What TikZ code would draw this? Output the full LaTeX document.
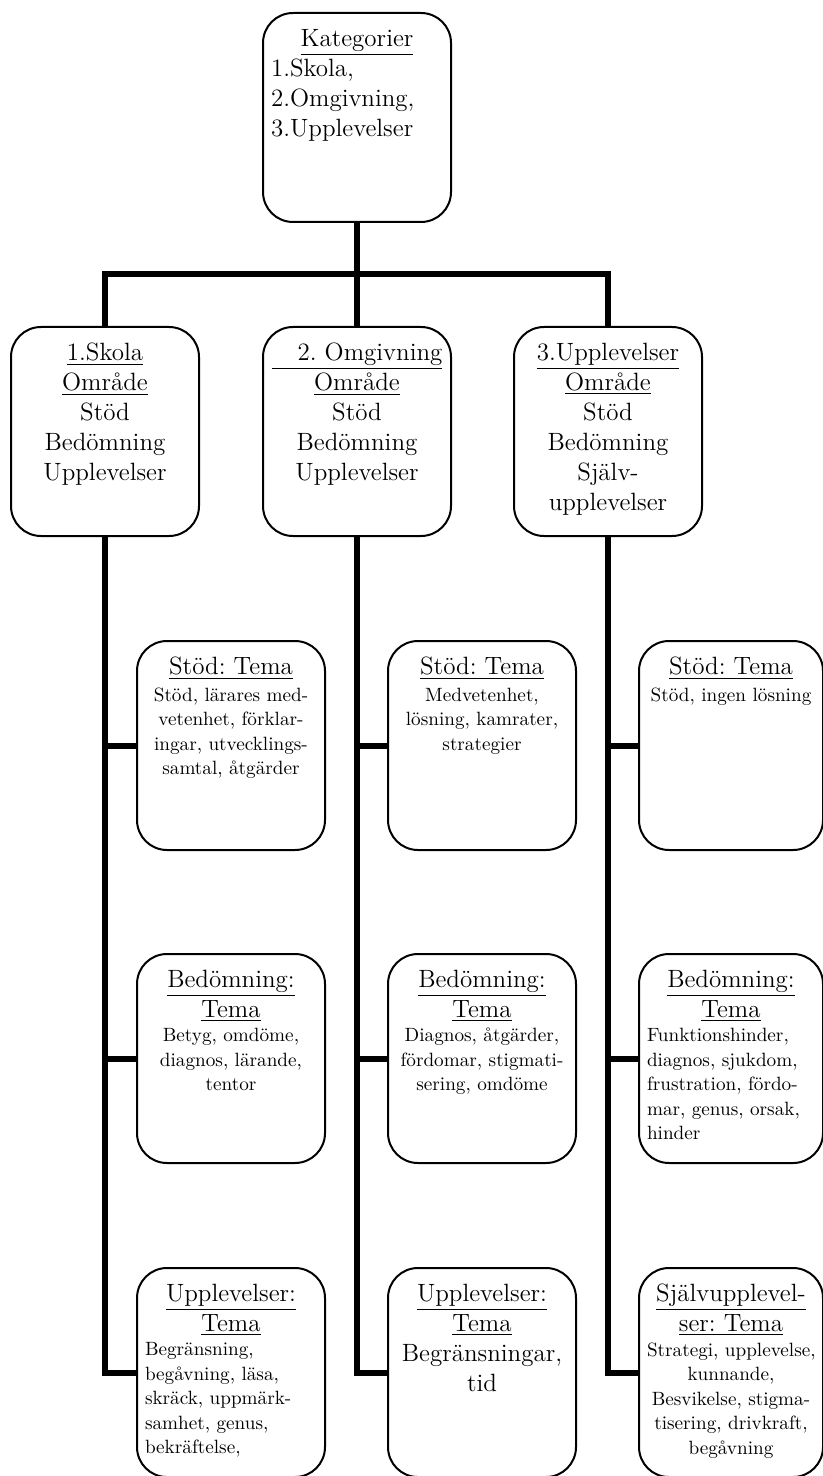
\documentclass[tikz,border=0pt]{standalone}
\usepackage{tikz}
\usetikzlibrary{positioning}

\frenchspacing
\newcommand{\rubrik}{\fontsize{12.5}{15}\selectfont}
\newcommand{\brodtext}{\fontsize{9.6}{12.25}\selectfont}
\newcommand{\ruttext}[2]{\parbox[c][104.5pt][t]{#1}{\vspace*{8pt}#2}}

\begin{document}
\begin{tikzpicture}[x=0.5pt, y=-0.5pt,
    ruta/.style={draw, line width=1pt, rounded corners=15pt, anchor=north west,
      inner xsep=4pt, inner ysep=0pt},
    gren/.style={line width=3pt}]
  \useasboundingbox (0,0) rectangle (823,1476);

  % kategorier
  \node[ruta] (kat) at (262,12) {\ruttext{86pt}{\raggedright\rubrik
      \makebox[\linewidth]{\underline{Kategorier}}\\ 1.Skola,\\ 2.Omgivning,\\ 3.Upplevelser}};

  % omraden
  \node[ruta] (om1) at (10,326) {\ruttext{86pt}{\centering\rubrik
      \underline{1.Skola}\\ \underline{Område}\\ Stöd\\ Bedömning\\ Upplevelser}};
  \node[ruta] (om2) at (262,326) {\ruttext{86pt}{\centering\rubrik
      \underline{\hspace{13pt}2. Omgivning}\\ \underline{Område}\\ Stöd\\ Bedömning\\ Upplevelser}};
  \node[ruta] (om3) at (513,326) {\ruttext{86pt}{\centering\rubrik
      \underline{3.Upplevelser}\\ \underline{Område}\\ Stöd\\ Bedömning\\ Själv-\\ upplevelser}};

  % teman, kolumn 1
  \node[ruta] (t11) at (136,640) {\ruttext{86pt}{\centering
      {\rubrik\underline{Stöd: Tema}\par}\vspace{1pt}
      \brodtext Stöd, lärares med-\\ vetenhet, förklar-\\ ingar, utvecklings-\\ samtal, åtgärder}};
  \node[ruta] (t12) at (136,953) {\ruttext{86pt}{\centering
      {\rubrik\underline{Bedömning:}\\ \underline{Tema}\par}
      \brodtext Betyg, omdöme,\\ diagnos, lärande,\\ tentor}};
  \node[ruta] (t13) at (136,1267) {\ruttext{86pt}{{\centering
      \rubrik\underline{Upplevelser:}\\ \underline{Tema}\par}
      \raggedright\brodtext Begränsning,\\ begåvning, läsa,\\ skräck, uppmärk-\\ samhet, genus,\\ bekräftelse,}};

  % teman, kolumn 2
  \node[ruta] (t21) at (387,640) {\ruttext{86pt}{\centering
      {\rubrik\underline{Stöd: Tema}\par}\vspace{1pt}
      \brodtext Medvetenhet,\\ lösning, kamrater,\\ strategier}};
  \node[ruta] (t22) at (387,953) {\ruttext{86pt}{\centering
      {\rubrik\underline{Bedömning:}\\ \underline{Tema}\par}
      \brodtext Diagnos, åtgärder,\\ fördomar, stigmati-\\ sering, omdöme}};
  \node[ruta] (t23) at (387,1267) {\ruttext{86pt}{\centering\rubrik
      \underline{Upplevelser:}\\ \underline{Tema}\\ Begränsningar,\\ tid}};

  % teman, kolumn 3
  \node[ruta] (t31) at (638,640) {\ruttext{84pt}{\centering
      {\rubrik\underline{Stöd: Tema}\par}\vspace{1pt}
      \brodtext Stöd, ingen lösning}};
  \node[ruta] (t32) at (638,953) {\ruttext{84pt}{{\centering
      \rubrik\underline{Bedömning:}\\ \underline{Tema}\par}
      \raggedright\brodtext Funktionshinder,\\ diagnos, sjukdom,\\ frustration, fördo-\\ mar, genus, orsak,\\ hinder}};
  \node[ruta] (t33) at (638,1267) {\ruttext{84pt}{\centering
      {\rubrik\underline{Självupplevel-}\\ \underline{ser: Tema}\par}
      \brodtext \mbox{Strategi, upplevelse,}\\ kunnande,\\ Besvikelse, stigma-\\ tisering, drivkraft,\\ begåvning}};

  % grenar
  \coordinate (bar) at (0,274);
  \draw[gren] (kat.south) -- (om2.north);
  \draw[gren] (om1.north) -- (om1.north |- bar) -- (om3.north |- bar) -- (om3.north);
  \foreach \k/\o in {1/om1, 2/om2, 3/om3} {
    \draw[gren] (\o.south) |- (t\k3.west);
    \draw[gren] (t\k1.west) -- (t\k1.west -| \o.south);
    \draw[gren] (t\k2.west) -- (t\k2.west -| \o.south);
  }
\end{tikzpicture}
\end{document}
